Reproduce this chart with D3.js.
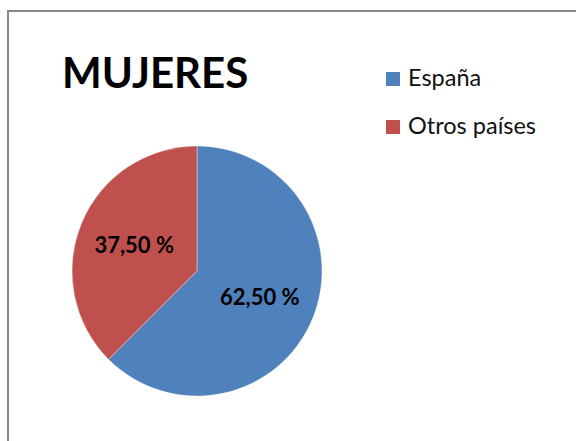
<!DOCTYPE html>
<html>
<head>
<meta charset="utf-8">
<script src="https://cdn.jsdelivr.net/npm/d3@7"></script>
<style>
  body { margin: 0; background: #fff; }
  svg { display: block; }
</style>
</head>
<body>
<div id="chart"></div>
<script>
const categories = ["España", "Otros países"];
const values = [62.5, 37.5];
const labels = ["62,50 %", "37,50 %"];
const title = "MUJERES";

const color = d3.scaleOrdinal()
    .domain(categories)
    .range(["#4f81bd", "#c0504d"]);

const width = 576, height = 441;
const font = "Lato, 'Open Sans', sans-serif";

let svg = d3.select("#chart").append("svg")
    .attr("width", width)
    .attr("height", height);

// chart area border (runs off the right and bottom edges)
svg.append("rect")
    .attr("x", 8)
    .attr("y", 11)
    .attr("width", width + 10)
    .attr("height", height + 10)
    .attr("fill", "#fff")
    .attr("stroke", "#888")
    .attr("stroke-width", 2);

svg.append("text")
    .attr("x", 62)
    .attr("y", 88)
    .attr("font-family", font)
    .attr("font-weight", "bold")
    .attr("font-size", 42)
    .attr("fill", "#000")
    .text(title);

let radius = 125;
let pieG = svg.append("g")
    .attr("transform", "translate(197, 271)");

let pie = d3.pie()
    .sort(null)
    .value(d => d.value);

let data = categories.map((c, i) => ({ category: c, value: values[i], label: labels[i] }));

let arc = d3.arc().innerRadius(0).outerRadius(radius);
let labelArc = d3.arc().innerRadius(68).outerRadius(68);

pieG.selectAll("path")
    .data(pie(data))
    .join("path")
    .attr("d", arc)
    .attr("fill", d => color(d.data.category))
    .attr("stroke", "#fff")
    .attr("stroke-opacity", 0.5)
    .attr("stroke-width", 0.75);

pieG.selectAll("text")
    .data(pie(data))
    .join("text")
    .attr("transform", d => `translate(${labelArc.centroid(d)})`)
    .attr("text-anchor", "middle")
    .attr("dy", "0.35em")
    .attr("font-family", font)
    .attr("font-weight", "bold")
    .attr("font-size", 22)
    .attr("fill", "#000")
    .text(d => d.data.label);

// legend
let legend = svg.append("g")
    .attr("transform", "translate(386, 72)");

let item = legend.selectAll("g")
    .data(categories)
    .join("g")
    .attr("transform", (d, i) => `translate(0, ${i * 48})`);

item.append("rect")
    .attr("width", 14)
    .attr("height", 14)
    .attr("fill", d => color(d));

item.append("text")
    .attr("x", 22)
    .attr("y", 14)
    .attr("font-family", font)
    .attr("font-size", 23.5)
    .attr("fill", "#111")
    .text(d => d);
</script>
</body>
</html>
